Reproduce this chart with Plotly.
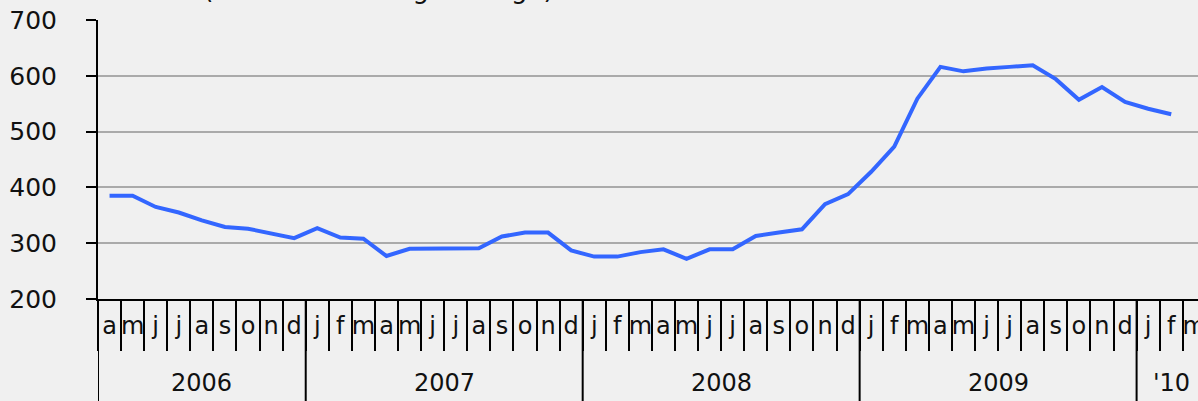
import plotly.graph_objects as go

# ---- data ----
month_letters = ["a", "m", "j", "j", "a", "s", "o", "n", "d",                       # 2006 (Apr-Dec)
                 "j", "f", "m", "a", "m", "j", "j", "a", "s", "o", "n", "d",        # 2007
                 "j", "f", "m", "a", "m", "j", "j", "a", "s", "o", "n", "d",        # 2008
                 "j", "f", "m", "a", "m", "j", "j", "a", "s", "o", "n", "d",        # 2009
                 "j", "f", "m"]                                                     # 2010
year_labels = ["2006", "2007", "2008", "2009", "'10"]
year_month_counts = [9, 12, 12, 12, 3]

values = [385, 385, 365, 355, 341, 329, 326, 317, 309,
          327, 310, 308, 277, 290, 290, 290, 291, 312, 319, 319, 287,
          276, 276, 284, 289, 272, 289, 289, 313, 319, 325, 370, 388,
          428, 473, 559, 616, 608, 613, 616, 619, 594, 557, 580, 553,
          541, 531]

title_text = "x 1 000 (3-month moving average)"
y_ticks = [200, 300, 400, 500, 600, 700]

# ---- derived positions (month index based) ----
x_points = [i + 0.5 for i in range(len(values))]
label_pos = [i + 0.5 for i in range(len(month_letters))]
boundaries = list(range(len(month_letters) + 1))
year_starts = []
acc = 0
for c in year_month_counts:
    year_starts.append(acc)
    acc += c
year_centers = [s + c / 2 for s, c in zip(year_starts, year_month_counts)]

FONT = "DejaVu Sans"
BG = "#f0f0f0"
MONTH_PX = 23.08

fig = go.Figure()
fig.add_trace(go.Scatter(
    x=x_points, y=values, mode="lines",
    line=dict(color="#3366ff", width=4),
    hoverinfo="skip", showlegend=False,
))

PLOT_H = 299 - 20
bottom_paper = -(401 - 299) / PLOT_H

shapes = []
for s in year_starts:
    shapes.append(dict(type="line", xref="x", yref="paper", x0=s, x1=s,
                       y0=0, y1=bottom_paper, line=dict(color="black", width=2),
                       layer="above"))

annotations = []
for yc, yl in zip(year_centers, year_labels):
    annotations.append(dict(x=yc, xref="x", y=-(383 - 299) / PLOT_H, yref="paper",
                            text=yl, showarrow=False, xanchor="center", yanchor="middle",
                            font=dict(family=FONT, size=24, color="#111111")))
annotations.append(dict(x=-3 / 1100, xref="paper", y=1 + (20 - 6) / PLOT_H, yref="paper",
                        text=title_text, showarrow=False, xanchor="left", yanchor="bottom",
                        font=dict(family=FONT, size=26, color="#111111")))

fig.update_layout(
    width=1198, height=401,
    margin=dict(l=98, r=0, t=20, b=102, autoexpand=False),
    paper_bgcolor=BG, plot_bgcolor=BG,
    shapes=shapes, annotations=annotations,
    showlegend=False,
)
fig.update_xaxes(
    range=[0, 1100 / MONTH_PX], automargin=False,
    tickmode="array", tickvals=label_pos, ticktext=month_letters,
    ticks="", ticklen=0, showgrid=False, zeroline=False,
    showline=True, linecolor="black", linewidth=2,
    tickfont=dict(family=FONT, size=24, color="#111111"),
    ticklabelstandoff=4, ticklabeloverflow="allow",
    minor=dict(tickmode="array", tickvals=boundaries, ticks="outside",
               ticklen=50, tickwidth=2, tickcolor="black", showgrid=False),
)
fig.update_yaxes(
    range=[200, 700], tickmode="array", tickvals=y_ticks, automargin=False,
    ticks="outside", ticklen=10, tickwidth=2, tickcolor="black",
    showgrid=True, gridcolor="#aaaaaa", gridwidth=2, zeroline=False,
    showline=True, linecolor="black", linewidth=2,
    tickfont=dict(family=FONT, size=25, color="#111111"),
    ticklabelstandoff=24,
)

fig.write_html(
    "out.html",
    config={"displayModeBar": False},
    post_script="document.body.style.margin='0px';document.body.style.padding='0px';"
                "document.documentElement.style.overflow='hidden';",
)
